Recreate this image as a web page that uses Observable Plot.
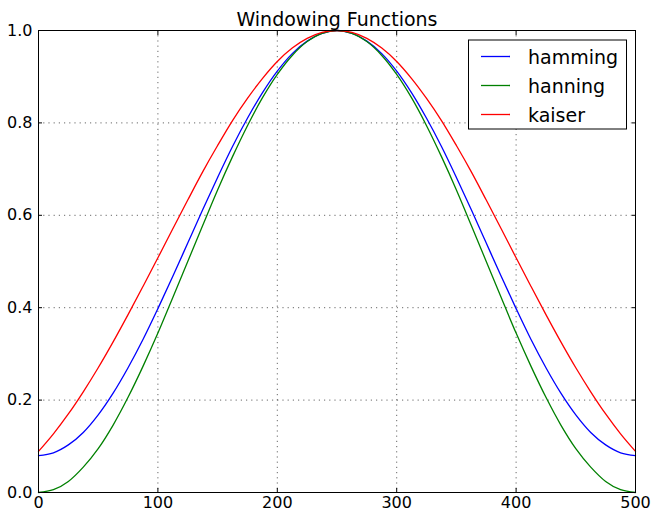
<!DOCTYPE html>
<html>
<head>
<meta charset="utf-8">
<script src="https://cdn.jsdelivr.net/npm/d3@7"></script>
<script src="https://cdn.jsdelivr.net/npm/@observablehq/plot@0.6"></script>
<style>
  html, body { margin: 0; padding: 0; background: #fff; }
  #chart svg { display: block; font-family: "DejaVu Sans", sans-serif; }
</style>
</head>
<body>
<div id="chart"></div>
<script>
// Sample positions along the window (n = 0 … 500)
const samples = [0, 12.5, 25, 37.5, 50, 62.5, 75, 87.5, 100, 112.5, 125, 137.5, 150, 162.5, 175, 187.5, 200, 212.5, 225, 237.5, 250,
                 262.5, 275, 287.5, 300, 312.5, 325, 337.5, 350, 362.5, 375, 387.5, 400, 412.5, 425, 437.5, 450, 462.5, 475, 487.5, 500];

// Window amplitudes at each sample position
const hamming = [0.080, 0.086, 0.103, 0.130, 0.168, 0.215, 0.270, 0.331, 0.398, 0.468, 0.540, 0.612, 0.682, 0.749, 0.810, 0.865, 0.912, 0.950, 0.977, 0.994, 1.000,
                 0.994, 0.977, 0.950, 0.912, 0.865, 0.810, 0.749, 0.682, 0.612, 0.540, 0.468, 0.398, 0.331, 0.270, 0.215, 0.168, 0.130, 0.103, 0.086, 0.080];
const hanning = [0.000, 0.006, 0.024, 0.055, 0.095, 0.146, 0.206, 0.273, 0.345, 0.422, 0.500, 0.578, 0.655, 0.727, 0.794, 0.854, 0.905, 0.946, 0.976, 0.994, 1.000,
                 0.994, 0.976, 0.946, 0.905, 0.854, 0.794, 0.727, 0.655, 0.578, 0.500, 0.422, 0.345, 0.273, 0.206, 0.146, 0.095, 0.055, 0.024, 0.006, 0.000];
const kaiser  = [0.089, 0.127, 0.170, 0.218, 0.270, 0.326, 0.385, 0.446, 0.508, 0.571, 0.633, 0.694, 0.751, 0.805, 0.853, 0.896, 0.933, 0.962, 0.983, 0.996, 1.000,
                 0.996, 0.983, 0.962, 0.933, 0.896, 0.853, 0.805, 0.751, 0.694, 0.633, 0.571, 0.508, 0.446, 0.385, 0.326, 0.270, 0.218, 0.170, 0.127, 0.089];

const seriesNames = ["hamming", "hanning", "kaiser"];
const seriesColors = ["#0000ff", "#008000", "#ff0000"];
const seriesValues = [hamming, hanning, kaiser];

const xTicks = [0, 100, 200, 300, 400, 500];
const yTicks = [0.0, 0.2, 0.4, 0.6, 0.8, 1.0];
const titleText = "Windowing Functions";

// Long-format table for the line marks
const rows = seriesNames.flatMap((name, i) =>
  samples.map((n, j) => ({series: name, n, w: seriesValues[i][j]}))
);

const W = 651, H = 511;
const margin = {top: 30, right: 16, bottom: 19, left: 38};

const grid = {stroke: "#000", strokeOpacity: 0.75, strokeWidth: 0.8, strokeDasharray: "1.2,4"};

const plot = Plot.plot({
  width: W,
  height: H,
  marginTop: margin.top,
  marginRight: margin.right,
  marginBottom: margin.bottom,
  marginLeft: margin.left,
  style: {fontFamily: "DejaVu Sans, sans-serif", fontSize: "16px", color: "#000", background: "#fff"},
  x: {domain: [0, 500]},
  y: {domain: [0, 1]},
  color: {domain: seriesNames, range: seriesColors},
  marks: [
    Plot.gridX(xTicks, grid),
    Plot.gridY(yTicks, grid),
    Plot.line(rows, {x: "n", y: "w", stroke: "series", strokeWidth: 1.3, curve: "catmull-rom"}),
    Plot.axisX(xTicks, {anchor: "bottom", tickSize: -4, tickPadding: 8, label: null, fontSize: 16}),
    Plot.axisX(xTicks, {anchor: "top", tickSize: -4, tickFormat: () => "", label: null}),
    Plot.axisY(yTicks, {anchor: "left", tickSize: -4, tickPadding: 10, tickFormat: d3.format(".1f"), label: null, fontSize: 16}),
    Plot.axisY(yTicks, {anchor: "right", tickSize: -4, tickFormat: () => "", label: null}),
    Plot.frame({stroke: "#000", strokeWidth: 1}),
    Plot.text([titleText], {frameAnchor: "top", lineAnchor: "bottom", dy: -5, fontSize: 19, fill: "#000"})
  ]
});

// Legend box in the upper-right corner of the axes
const svg = d3.select(plot);
const legend = svg.append("g").attr("transform", `translate(${W - margin.right - 9},${margin.top + 9.5})`);
const boxW = 158, boxH = 89, rowH = 29;
legend.append("rect")
  .attr("x", -boxW + 0.5).attr("y", 0.5)
  .attr("width", boxW).attr("height", boxH)
  .attr("fill", "#fff").attr("stroke", "#000").attr("stroke-width", 1);
seriesNames.forEach((name, i) => {
  const cy = 17 + i * rowH;
  legend.append("line")
    .attr("x1", -boxW + 13).attr("x2", -boxW + 42)
    .attr("y1", cy).attr("y2", cy)
    .attr("stroke", seriesColors[i]).attr("stroke-width", 1.3);
  legend.append("text")
    .attr("x", -boxW + 60).attr("y", cy + 7)
    .attr("text-anchor", "start")
    .attr("font-size", 19).attr("fill", "#000")
    .text(name);
});

document.getElementById("chart").appendChild(plot);
</script>
</body>
</html>
